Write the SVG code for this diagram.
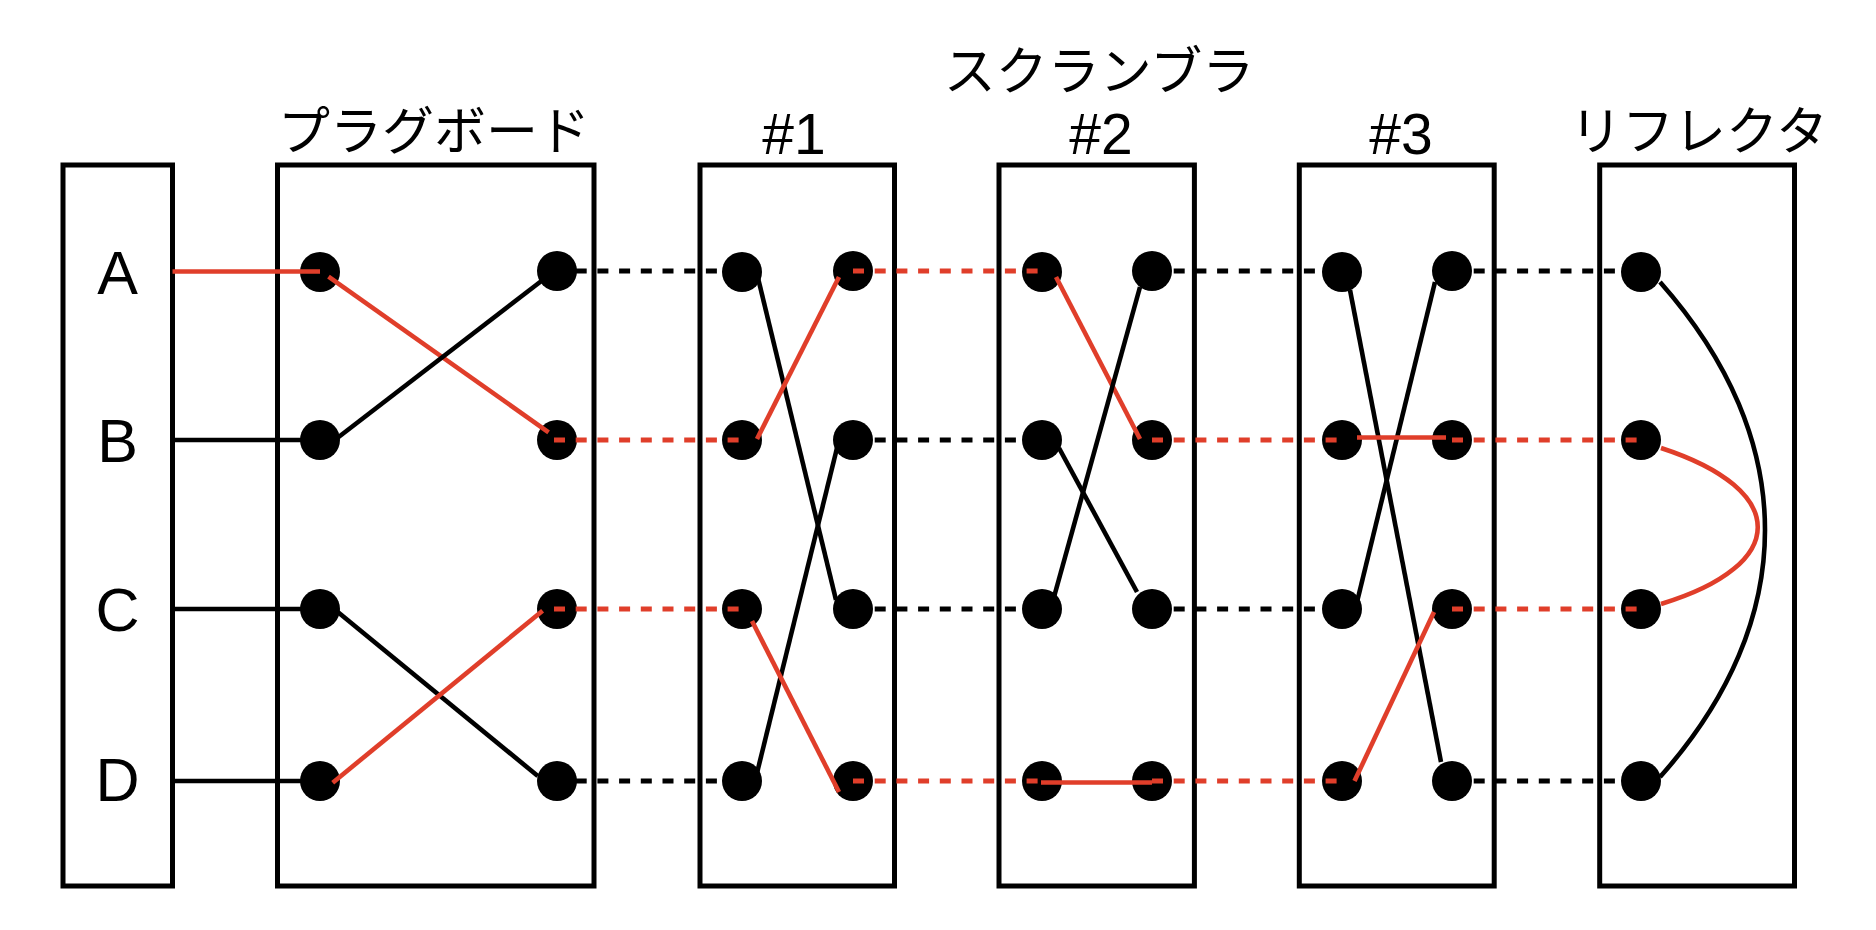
<svg xmlns="http://www.w3.org/2000/svg" width="1876" height="930" viewBox="0 0 1876 930">
<style>
.box{fill:none;stroke:#000;stroke-width:5}
.dot{fill:#000}
.lbl{font-family:"Liberation Sans",Arial,sans-serif;font-size:61px;fill:#000;text-anchor:middle}
.num{font-family:"Liberation Sans",Arial,sans-serif;font-size:57px;fill:#000;text-anchor:middle}
.jp{font-family:"Noto Sans CJK JP","Noto Sans",sans-serif;font-size:52px;fill:#000;text-anchor:middle}
.w{fill:none;stroke:#000;stroke-width:4.6}
.r{fill:none;stroke:#e03e2a;stroke-width:4.6}
.dk{fill:none;stroke:#000;stroke-width:5;stroke-dasharray:11 10.7}
.dr{fill:none;stroke:#e03e2a;stroke-width:5;stroke-dasharray:11 10.7}
</style>
<rect width="1876" height="930" fill="#fff"/>
<g id="titles">
<text class="jp" x="1099" y="90">スクランブラ</text>
</g>
<g id="keyboard">
<rect class="box" x="63" y="165" width="109.5" height="721"/>
<text class="lbl" x="117.5" y="294">A</text>
<text class="lbl" x="117.5" y="462">B</text>
<text class="lbl" x="117.5" y="631">C</text>
<text class="lbl" x="117.5" y="801">D</text>
</g>
<g id="plugboard">
<text class="jp" x="434" y="150">プラグボード</text>
<rect class="box" x="277.5" y="165" width="316.5" height="721"/>
<circle class="dot" cx="320" cy="272" r="20"/>
<circle class="dot" cx="320" cy="440" r="20"/>
<circle class="dot" cx="320" cy="609" r="20"/>
<circle class="dot" cx="320" cy="781" r="20"/>
<circle class="dot" cx="557" cy="271" r="20"/>
<circle class="dot" cx="557" cy="440" r="20"/>
<circle class="dot" cx="557" cy="609" r="20"/>
<circle class="dot" cx="557" cy="781" r="20"/>
</g>
<g id="rotor1">
<text class="num" x="794" y="154">#1</text>
<rect class="box" x="700" y="165" width="194.5" height="721"/>
<circle class="dot" cx="742" cy="272" r="20"/>
<circle class="dot" cx="742" cy="440" r="20"/>
<circle class="dot" cx="742" cy="609" r="20"/>
<circle class="dot" cx="742" cy="781" r="20"/>
<circle class="dot" cx="853" cy="271" r="20"/>
<circle class="dot" cx="853" cy="440" r="20"/>
<circle class="dot" cx="853" cy="609" r="20"/>
<circle class="dot" cx="853" cy="781" r="20"/>
</g>
<g id="rotor2">
<text class="num" x="1101" y="154">#2</text>
<rect class="box" x="999" y="165" width="195.4" height="721"/>
<circle class="dot" cx="1042" cy="272" r="20"/>
<circle class="dot" cx="1042" cy="440" r="20"/>
<circle class="dot" cx="1042" cy="609" r="20"/>
<circle class="dot" cx="1042" cy="781" r="20"/>
<circle class="dot" cx="1152" cy="271" r="20"/>
<circle class="dot" cx="1152" cy="440" r="20"/>
<circle class="dot" cx="1152" cy="609" r="20"/>
<circle class="dot" cx="1152" cy="781" r="20"/>
</g>
<g id="rotor3">
<text class="num" x="1401" y="154">#3</text>
<rect class="box" x="1299.3" y="165" width="194.9" height="721"/>
<circle class="dot" cx="1342" cy="272" r="20"/>
<circle class="dot" cx="1342" cy="440" r="20"/>
<circle class="dot" cx="1342" cy="609" r="20"/>
<circle class="dot" cx="1342" cy="781" r="20"/>
<circle class="dot" cx="1452" cy="271" r="20"/>
<circle class="dot" cx="1452" cy="440" r="20"/>
<circle class="dot" cx="1452" cy="609" r="20"/>
<circle class="dot" cx="1452" cy="781" r="20"/>
</g>
<g id="reflector">
<text class="jp" x="1699" y="150">リフレクタ</text>
<rect class="box" x="1599.7" y="165" width="194.8" height="721"/>
<circle class="dot" cx="1641" cy="272" r="20"/>
<circle class="dot" cx="1641" cy="440" r="20"/>
<circle class="dot" cx="1641" cy="609" r="20"/>
<circle class="dot" cx="1641" cy="781" r="20"/>
</g>
<g id="connectors">
<line class="r" x1="172.5" y1="271.5" x2="320" y2="271.5"/>
<line class="w" x1="172.5" y1="440" x2="320" y2="440"/>
<line class="w" x1="172.5" y1="609" x2="320" y2="609"/>
<line class="w" x1="172.5" y1="781" x2="320" y2="781"/>
<line class="r" x1="328.5" y1="276.7" x2="548.6" y2="432.3"/>
<line class="w" x1="335.7" y1="439.3" x2="541.4" y2="281"/>
<line class="w" x1="337.5" y1="611.7" x2="537.8" y2="776"/>
<line class="r" x1="332.7" y1="782.7" x2="542.6" y2="610.7"/>
<line class="dk" x1="554" y1="271" x2="742" y2="271"/>
<line class="dr" x1="554" y1="440" x2="742" y2="440"/>
<line class="dr" x1="554" y1="609" x2="742" y2="609"/>
<line class="dk" x1="554" y1="781" x2="742" y2="781"/>
<line class="w" x1="758" y1="278" x2="836" y2="600"/>
<line class="r" x1="839" y1="277" x2="757" y2="439"/>
<line class="w" x1="837" y1="448" x2="757" y2="773"/>
<line class="r" x1="752" y1="621" x2="839" y2="792"/>
<line class="dr" x1="853" y1="271" x2="1040" y2="271"/>
<line class="dk" x1="853" y1="440" x2="1040" y2="440"/>
<line class="dk" x1="853" y1="609" x2="1040" y2="609"/>
<line class="dr" x1="853" y1="781" x2="1040" y2="781"/>
<line class="r" x1="1056" y1="277" x2="1140" y2="439"/>
<line class="w" x1="1140" y1="287" x2="1054" y2="597"/>
<line class="w" x1="1059" y1="448" x2="1137" y2="592"/>
<line class="r" x1="1041" y1="782.5" x2="1152" y2="782.5"/>
<line class="dk" x1="1152" y1="271" x2="1340" y2="271"/>
<line class="dr" x1="1152" y1="440" x2="1340" y2="440"/>
<line class="dk" x1="1152" y1="609" x2="1340" y2="609"/>
<line class="dr" x1="1152" y1="781" x2="1340" y2="781"/>
<line class="w" x1="1350" y1="290" x2="1441" y2="762"/>
<line class="w" x1="1435" y1="282" x2="1357.5" y2="600"/>
<line class="r" x1="1357" y1="437.5" x2="1446" y2="437.5"/>
<line class="r" x1="1434" y1="612" x2="1354.5" y2="781"/>
<line class="dk" x1="1452" y1="271" x2="1640" y2="271"/>
<line class="dr" x1="1452" y1="440" x2="1640" y2="440"/>
<line class="dr" x1="1452" y1="609" x2="1640" y2="609"/>
<line class="dk" x1="1452" y1="781" x2="1640" y2="781"/>
<path class="w" d="M1660,282 C1800,440 1800,620 1660,777"/>
<path class="r" d="M1661,448 C1790,490 1790,565 1661,604"/>
</g>
</svg>
